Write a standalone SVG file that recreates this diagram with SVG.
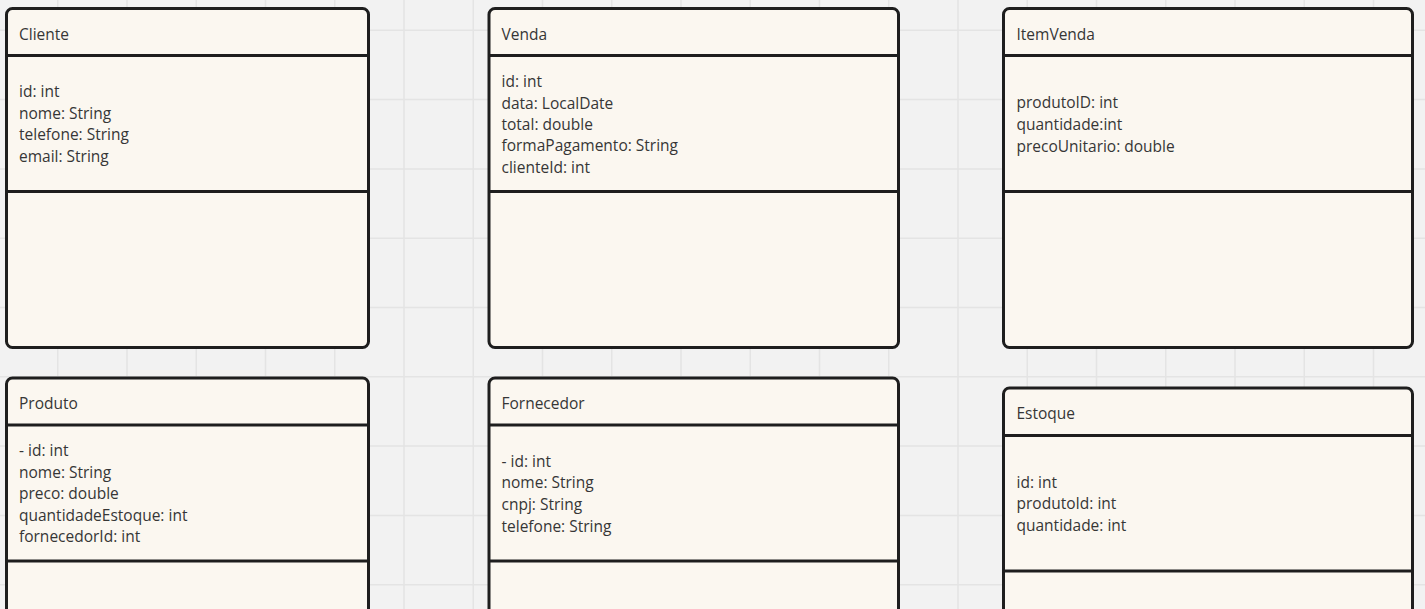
<svg xmlns="http://www.w3.org/2000/svg" width="1425" height="609" viewBox="0 0 1425 609">
  <style>
    .bg { fill: #f2f2f2; }
    .grid { stroke: #e4e4e4; stroke-width: 1.5; fill: none; }
    .box { fill: #fbf7f0; stroke: #1e1e1e; stroke-width: 3; }
    .div { stroke: #1e1e1e; stroke-width: 3; fill: none; }
    text { font-family: "Open Sans", "Noto Sans", "Liberation Sans", sans-serif; font-size: 15.5px; fill: #363636; }
  </style>
  <rect class="bg" x="0" y="0" width="1425" height="609"/>
  <g id="grid" class="grid">
    <path d="M57.75 0V609M127 0V609M196.25 0V609M265.5 0V609M334.75 0V609M404 0V609M473.25 0V609M542.5 0V609M611.75 0V609M681 0V609M750.25 0V609M819.5 0V609M888.75 0V609M958 0V609M1027.25 0V609M1096.5 0V609M1165.75 0V609M1235 0V609M1304.25 0V609M1373.5 0V609"/>
    <path d="M0 30.3H1425M0 99.6H1425M0 168.9H1425M0 238.2H1425M0 307.5H1425M0 376.8H1425M0 446.1H1425M0 515.4H1425M0 584.7H1425"/>
  </g>
  <g id="connectors"></g>

  <g id="cliente">
    <rect class="box" x="6.5" y="8.5" width="362" height="339" rx="6"/>
    <path class="div" d="M6.5 55.5H368.5M6.5 191.5H368.5"/>
    <text x="19" y="40">Cliente</text>
    <text x="19" y="97">id: int</text>
    <text x="19" y="118.7">nome: String</text>
    <text x="19" y="140.4">telefone: String</text>
    <text x="19" y="162.1">email: String</text>
  </g>

  <g id="venda">
    <rect class="box" x="489" y="8.5" width="409.5" height="339" rx="6"/>
    <path class="div" d="M489 55.5H898.5M489 191.5H898.5"/>
    <text x="501.5" y="40">Venda</text>
    <text x="501.5" y="87.2">id: int</text>
    <text x="501.5" y="108.6">data: LocalDate</text>
    <text x="501.5" y="130">total: double</text>
    <text x="501.5" y="151.4">formaPagamento: String</text>
    <text x="501.5" y="172.8">clienteId: int</text>
  </g>

  <g id="itemvenda">
    <rect class="box" x="1003.5" y="8.5" width="409" height="339" rx="6"/>
    <path class="div" d="M1003.5 55.5H1412.5M1003.5 191.5H1412.5"/>
    <text x="1016.5" y="40">ItemVenda</text>
    <text x="1016.5" y="108.3">produtoID: int</text>
    <text x="1016.5" y="129.9">quantidade:int</text>
    <text x="1016.5" y="151.5">precoUnitario: double</text>
  </g>

  <g id="produto">
    <rect class="box" x="6.5" y="378" width="362" height="280" rx="6"/>
    <path class="div" d="M6.5 425H368.5M6.5 561H368.5"/>
    <text x="19" y="409">Produto</text>
    <text x="19" y="456">- id: int</text>
    <text x="19" y="477.5">nome: String</text>
    <text x="19" y="499">preco: double</text>
    <text x="19" y="520.5">quantidadeEstoque: int</text>
    <text x="19" y="542">fornecedorId: int</text>
  </g>

  <g id="fornecedor">
    <rect class="box" x="489" y="378" width="409.5" height="280" rx="6"/>
    <path class="div" d="M489 425H898.5M489 561H898.5"/>
    <text x="501.5" y="409">Fornecedor</text>
    <text x="501.5" y="466.8">- id: int</text>
    <text x="501.5" y="488.4">nome: String</text>
    <text x="501.5" y="510">cnpj: String</text>
    <text x="501.5" y="531.6">telefone: String</text>
  </g>

  <g id="estoque">
    <rect class="box" x="1003.5" y="388" width="409" height="280" rx="6"/>
    <path class="div" d="M1003.5 435.5H1412.5M1003.5 571H1412.5"/>
    <text x="1016.5" y="419.3">Estoque</text>
    <text x="1016.5" y="487.7">id: int</text>
    <text x="1016.5" y="509.2">produtoId: int</text>
    <text x="1016.5" y="530.7">quantidade: int</text>
  </g>
</svg>
